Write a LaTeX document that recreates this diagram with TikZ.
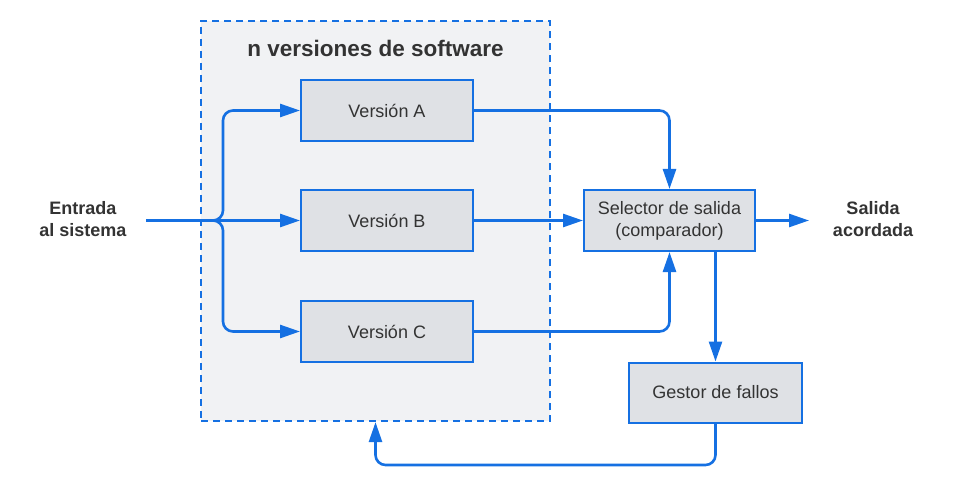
\documentclass[tikz,border=0pt]{standalone}
\usepackage{fontspec}
\setmainfont{Liberation Sans}
\usetikzlibrary{arrows.meta,calc}
\definecolor{ablue}{HTML}{1570E2}
\definecolor{boxgray}{HTML}{DFE1E5}
\definecolor{grpgray}{HTML}{F1F2F4}
\definecolor{txtgray}{HTML}{333333}
\tikzset{
  procbox/.style={draw=ablue, line width=2pt, fill=boxgray, minimum width=172pt, minimum height=61pt,
    inner sep=0pt, align=center, text=txtgray, font=\fontsize{18}{22}\selectfont},
  grpbox/.style={draw=ablue, line width=2.2pt, fill=grpgray, dash pattern=on 7pt off 5pt,
    minimum width=349pt, minimum height=400pt, inner sep=0pt},
  conn/.style={draw=ablue, line width=2.6pt, -{Triangle[length=20pt,width=13pt]}},
  lbl/.style={align=center, text=txtgray, font=\fontsize{18}{22}\selectfont\bfseries, inner sep=0pt},
  ttl/.style={text=txtgray, font=\fontsize{22.5}{26}\selectfont\bfseries, inner sep=0pt}
}
\begin{document}
\begin{tikzpicture}[x=1pt,y=-1pt]
\useasboundingbox (0,0) rectangle (956,484);
\node[grpbox] (grp) at (375.5,221) {};
\node[ttl] (title) at (375.5,48) {n versiones de software};
\node[procbox] (A) at (387,110.5) {Versión A};
\node[procbox] (B) at (387,220.5) {Versión B};
\node[procbox] (C) at (387,331.5) {Versión C};
\node[procbox, minimum width=171pt] (S) at (669.5,220.5) {Selector de salida\\(comparador)};
\node[procbox, minimum width=173pt, minimum height=60pt] (G) at (715.5,392.5) {Gestor de fallos};
\node[lbl] (entrada) at (83,219.5) {Entrada\\al sistema};
\node[lbl] (salida) at (873,219.5) {Salida\\acordada};
\coordinate (in) at (146,220.5);
\coordinate (bl) at (213,220.5);
\coordinate (br) at (223,220.5);
\coordinate (outp) at (809,220.5);
% input branches
\draw[conn] (in) -- (B.west);
\draw[conn, rounded corners=10pt] (bl) -- (br) -- (br |- A.west) -- (A.west);
\draw[conn, rounded corners=10pt] (bl) -- (br) -- (br |- C.west) -- (C.west);
% to selector
\draw[conn, rounded corners=10pt] (A.east) -| (S.north);
\draw[conn] (B.east) -- (S.west);
\draw[conn, rounded corners=10pt] (C.east) -| (S.south);
% output
\draw[conn] (S.east) -- (outp);
% to fault manager
\draw[conn] (G.north |- S.south) -- (G.north);
% feedback
\draw[conn, rounded corners=10pt] (G.south) -- ++(0,41.5) -| (grp.south);
\end{tikzpicture}
\end{document}
